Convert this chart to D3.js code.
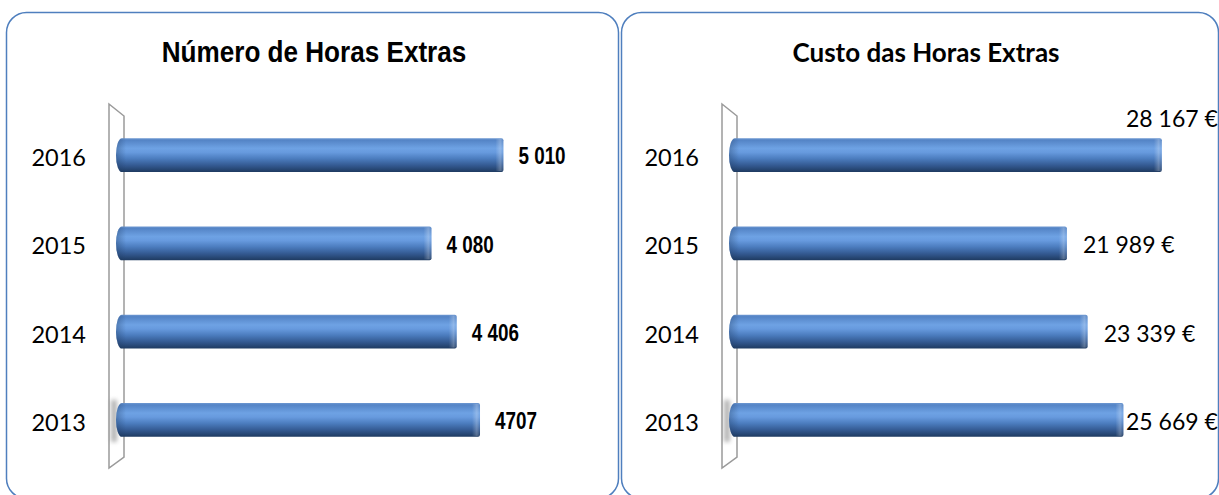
<!DOCTYPE html>
<html>
<head>
<meta charset="utf-8">
<script src="https://cdn.jsdelivr.net/npm/d3@7"></script>
<style>
  html, body { margin: 0; padding: 0; background: #ffffff; }
  svg { display: block; }
</style>
</head>
<body>
<svg id="chart" width="1219" height="495"></svg>
<script>
// Overtime data, 2013–2016
const years = ["2013", "2014", "2015", "2016"];
const horas = [4707, 4406, 4080, 5010];
const horasLabels = ["4707", "4 406", "4 080", "5 010"];
const custo = [25669, 23339, 21989, 28167];
const custoLabels = ["25 669 €", "23 339 €", "21 989 €", "28 167 €"];
const titles = ["Número de Horas Extras", "Custo das Horas Extras"];

const svg = d3.select("#chart");
const defs = svg.append("defs");

// cylinder shading across the bar height
const grad = defs.append("linearGradient")
  .attr("id", "cyl").attr("x1", 0).attr("y1", 0).attr("x2", 0).attr("y2", 1);
[[0, "#6f99d2"], [0.06, "#5484c6"], [0.3, "#6ea2e4"], [0.42, "#679ade"],
 [0.6, "#4c7dbf"], [0.8, "#345a92"], [1, "#1e3a60"]]
  .forEach(([o, c]) => grad.append("stop").attr("offset", o).attr("stop-color", c));

// light rim at the flat end of each bar
const rim = defs.append("linearGradient")
  .attr("id", "rim").attr("x1", 0).attr("y1", 0).attr("x2", 1).attr("y2", 0);
[[0, "#ffffff", 0], [0.6, "#ffffff", 0.25], [1, "#ffffff", 0.05]]
  .forEach(([o, c, a]) => rim.append("stop").attr("offset", o)
    .attr("stop-color", c).attr("stop-opacity", a));

// darker edge on the rounded cap
const capShade = defs.append("linearGradient")
  .attr("id", "capShade").attr("x1", 0).attr("y1", 0).attr("x2", 1).attr("y2", 0);
[[0, "#1e3a60", 0.35], [1, "#1e3a60", 0]]
  .forEach(([o, c, a]) => capShade.append("stop").attr("offset", o)
    .attr("stop-color", c).attr("stop-opacity", a));

defs.append("filter").attr("id", "soft").attr("x", "-100%").attr("width", "300%")
  .append("feGaussianBlur").attr("stdDeviation", 2);

const y = d3.scaleBand()
  .domain(years.slice().reverse())
  .range([111, 464])
  .paddingInner(0.615)
  .paddingOuter(0.3075);

const panels = [
  {
    box: [6.5, 12.5, 612, 486], title: titles[0], titleX: 314,
    titleFont: "bold 30px 'Liberation Sans', Arial, sans-serif", titleScale: 0.87,
    x: d3.scaleLinear().domain([0, 6000]).range([116, 580]),
    values: horas, labels: horasLabels, bold: true, maxX: 600
  },
  {
    box: [621.5, 12.5, 597, 486], title: titles[1], titleX: 926,
    titleFont: "bold 26px Lato, 'Open Sans', sans-serif", titleScale: 1,
    x: d3.scaleLinear().domain([0, 30000]).range([729, 1190]),
    values: custo, labels: custoLabels, bold: false, maxX: 1126
  }
];

panels.forEach(p => {
  const g = svg.append("g");
  const [bx, by, bw, bh] = p.box;

  g.append("rect")
    .attr("x", bx).attr("y", by).attr("width", bw).attr("height", bh)
    .attr("rx", 20).attr("ry", 20)
    .attr("fill", "none").attr("stroke", "#4f7fbe").attr("stroke-width", 1.5);

  g.append("text")
    .attr("transform", `translate(${p.titleX},62) scale(${p.titleScale},1)`)
    .attr("text-anchor", "middle")
    .style("font", p.titleFont)
    .attr("fill", "#000")
    .text(p.title);

  // back wall of the 3D plot area
  const x0 = p.x(0);
  const wl = x0 - 7, wr = x0 + 8;
  const [r0, r1] = y.range();
  g.append("path")
    .attr("d", `M${wl},${r0 - 7} L${wr},${r0 + 5} L${wr},${r1 - 7} L${wl},${r1 + 4} Z`)
    .attr("fill", "none").attr("stroke", "#9a9a9a").attr("stroke-width", 1.5);

  // category labels
  g.selectAll("text.year").data(years).join("text")
    .attr("class", "year")
    .attr("x", wl - 23)
    .attr("y", d => y(d) + y.bandwidth() / 2 + 2)
    .attr("text-anchor", "end")
    .attr("dominant-baseline", "central")
    .style("font", "23.5px Lato, 'Open Sans', sans-serif")
    .attr("fill", "#000")
    .text(d => d);

  const bh2 = y.bandwidth();
  const rows = years.map((yr, i) => ({ yr, v: p.values[i], label: p.labels[i], i }));

  // soft shadow under the first bar's cap
  g.append("rect")
    .attr("x", x0 - 5).attr("y", y(years[0]) - 3)
    .attr("width", 6).attr("height", bh2 + 8)
    .attr("fill", "#777").attr("opacity", 0.55)
    .attr("filter", "url(#soft)");

  const bars = g.selectAll("g.bar").data(rows).join("g").attr("class", "bar");
  const cap = 6;

  bars.append("path")
    .attr("d", d => {
      const top = y(d.yr), bot = top + bh2, xe = p.x(d.v);
      return `M${x0 + cap},${top} L${xe - 2},${top} Q${xe},${top} ${xe},${top + 2}
              L${xe},${bot - 2} Q${xe},${bot} ${xe - 2},${bot} L${x0 + cap},${bot}
              A${cap},${bh2 / 2} 0 0 1 ${x0 + cap},${top} Z`;
    })
    .attr("fill", "url(#cyl)");

  bars.append("path")
    .attr("d", d => {
      const top = y(d.yr), bot = top + bh2;
      return `M${x0 + cap},${top} L${x0 + cap + 4},${top} L${x0 + cap + 4},${bot}
              L${x0 + cap},${bot} A${cap},${bh2 / 2} 0 0 1 ${x0 + cap},${top} Z`;
    })
    .attr("fill", "url(#capShade)");

  bars.append("rect")
    .attr("x", d => p.x(d.v) - 8).attr("y", d => y(d.yr) + 1)
    .attr("width", 8).attr("height", bh2 - 2)
    .attr("fill", "url(#rim)");

  // value labels; long ones are kept inside the panel
  bars.append("text")
    .attr("transform", d => {
      const want = p.x(d.v) + (p.bold ? 15 : 16);
      const lx = Math.min(want, p.maxX);
      const above = want - p.maxX > 20;
      const cy = y(d.yr) + bh2 / 2 + (above ? -37 : 1);
      return `translate(${lx},${cy}) scale(${p.bold ? 0.82 : 1},1)`;
    })
    .attr("dominant-baseline", "central")
    .style("font", p.bold ? "bold 23px 'Liberation Sans', Arial, sans-serif"
                          : "23px Lato, 'Open Sans', sans-serif")
    .attr("fill", "#000")
    .text(d => d.label);
});
</script>
</body>
</html>
